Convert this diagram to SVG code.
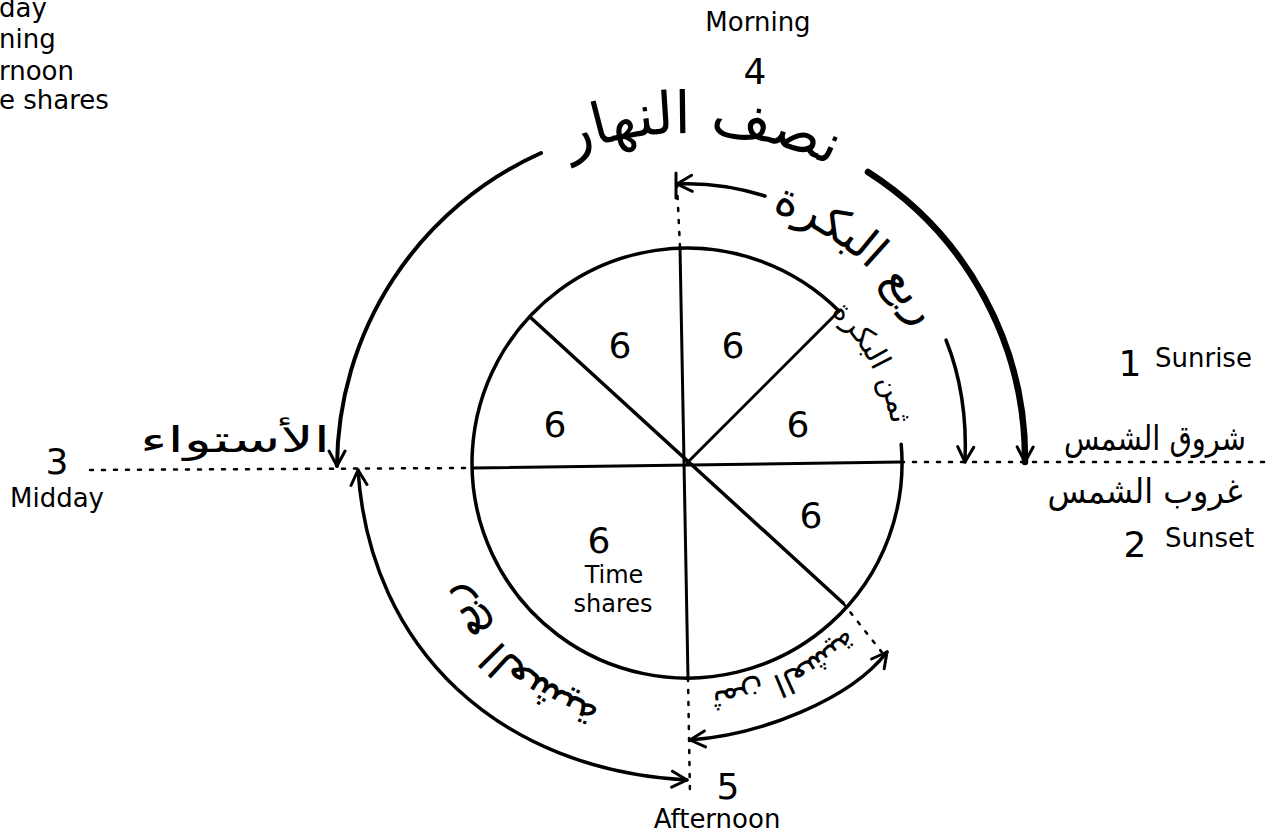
<svg xmlns="http://www.w3.org/2000/svg" width="1281" height="836" viewBox="0 0 1281 836">
<style>
.ln{fill:none;stroke:#000;stroke-linecap:round;stroke-linejoin:round}
.dot{fill:none;stroke:#000;stroke-width:2.5;stroke-dasharray:3 9;stroke-linecap:round}
.en{font-family:'DejaVu Sans','Liberation Sans',sans-serif;fill:#000}
.ar{font-family:'DejaVu Sans',sans-serif;fill:#000}
</style>
<defs>
<marker id="ah" viewBox="0 0 20 20" refX="18" refY="10" markerWidth="20" markerHeight="20" markerUnits="userSpaceOnUse" orient="auto-start-reverse">
<path d="M3,2 L18,10 L3,18" fill="none" stroke="#000" stroke-width="3" stroke-linecap="round" stroke-linejoin="round"/>
</marker>
<path id="p-top" d="M497.7,192.7 A330,330 0 0 1 899.1,210.2"/>
<path id="p-rb" d="M659.2,198.5 A266,266 0 0 1 951.5,435.2"/>
<path id="p-tb" d="M744.6,263.1 A208,208 0 0 1 886.2,523.8"/>
<path id="p-ra" d="M705,720.4 A258,258 0 0 1 429.6,481"/>
<path id="p-ta" d="M903.1,541.7 A230,230 0 0 1 608.3,679.1"/>
</defs>
<rect width="1281" height="836" fill="#fff"/>

<g id="legend-fragments" class="en" font-size="26">
<text x="-1" y="17">day</text>
<text x="-1" y="48">ning</text>
<text x="-1" y="80">rnoon</text>
<text x="-1" y="109">e shares</text>
</g>

<g id="wheel">
<path class="ln" stroke-width="3.5" d="M901.2,444.3 A215,215 0 1 1 839,311"/>
<path class="ln" stroke-width="3" d="M680,247 L688,678"/>
<path class="ln" stroke-width="3" d="M472,468 L901,462"/>
<path class="ln" stroke-width="3.5" d="M530,317 L843,603"/>
<path class="ln" stroke-width="3" d="M687,463 L839,311"/>
<g class="en" font-size="36" text-anchor="middle">
<text x="620" y="358">6</text>
<text x="733" y="358">6</text>
<text x="555" y="437">6</text>
<text x="798" y="437">6</text>
<text x="811" y="528">6</text>
<text x="599" y="553">6</text>
</g>
<g class="en" font-size="24" text-anchor="middle">
<text x="614" y="583">Time</text>
<text x="613" y="612">shares</text>
</g>
</g>

<g id="connectors">
<path class="dot" d="M90,470 L472,468"/>
<path class="dot" d="M901,462 L1265,462"/>
<path class="dot" d="M680,247 L677,185"/>
<path class="dot" d="M688,678 L690,795"/>
<path class="dot" d="M843,603 L884,655"/>
<path class="ln" stroke-width="4" d="M541,153 A345,345 0 0 0 337,466" marker-end="url(#ah)"/>
<path class="ln" stroke-width="6.5" d="M868,172 A340,340 0 0 1 1025,462" marker-end="url(#ah)"/>
<path class="ln" stroke-width="3.5" d="M765,196 Q720,182 677,184" marker-end="url(#ah)"/>
<path class="ln" stroke-width="3" d="M676,173 L676,198"/>
<path class="ln" stroke-width="3.5" d="M946,340 Q968,395 965,462" marker-end="url(#ah)"/>
<path class="ln" stroke-width="3.5" d="M358,470 C370,650 500,770 687,780" marker-start="url(#ah)" marker-end="url(#ah)"/>
<path class="ln" stroke-width="3.5" d="M690,740 C760,735 850,700 887,652" marker-start="url(#ah)" marker-end="url(#ah)"/>
</g>

<g id="label-morning" class="en" text-anchor="middle">
<text x="758" y="31" font-size="26">Morning</text>
<text x="755" y="84" font-size="36">4</text>
</g>
<g id="label-sunrise" class="en">
<text x="1130" y="376" font-size="36" text-anchor="middle">1</text>
<text x="1155" y="367" font-size="26">Sunrise</text>
</g>
<g id="label-sunset" class="en">
<text x="1135" y="557" font-size="36" text-anchor="middle">2</text>
<text x="1165" y="547" font-size="26">Sunset</text>
</g>
<g id="label-midday" class="en" text-anchor="middle">
<text x="57" y="474" font-size="36">3</text>
<text x="57" y="507" font-size="26">Midday</text>
</g>
<g id="label-afternoon" class="en" text-anchor="middle">
<text x="728" y="799" font-size="36">5</text>
<text x="717" y="828" font-size="26">Afternoon</text>
</g>

<g id="ar-nisf-annahar" class="ar"><text font-size="58"><textPath href="#p-top" startOffset="50%" text-anchor="middle">نصف النهار</textPath></text></g>
<g id="ar-rub-albukra" class="ar"><text font-size="46"><textPath href="#p-rb" startOffset="50%" text-anchor="middle">ربع البكرة</textPath></text></g>
<g id="ar-thumn-albukra" class="ar"><text font-size="29"><textPath href="#p-tb" startOffset="50%" text-anchor="middle">ثمن البكرة</textPath></text></g>
<g id="ar-rub-alashiya" class="ar"><text font-size="44"><textPath href="#p-ra" startOffset="50%" text-anchor="middle">ربع العشية</textPath></text></g>
<g id="ar-thumn-alashiya" class="ar"><text font-size="32"><textPath href="#p-ta" startOffset="50%" text-anchor="middle">ثمن العشية</textPath></text></g>
<g id="ar-istiwa" class="ar"><text x="235" y="452" font-size="36" text-anchor="middle" textLength="190" lengthAdjust="spacingAndGlyphs">الأستواء</text></g>
<g id="ar-shuruq" class="ar"><text x="1155" y="450" font-size="34" text-anchor="middle" textLength="182" lengthAdjust="spacingAndGlyphs">شروق الشمس</text></g>
<g id="ar-ghurub" class="ar"><text x="1145" y="503" font-size="34" text-anchor="middle" textLength="195" lengthAdjust="spacingAndGlyphs">غروب الشمس</text></g>
</svg>
